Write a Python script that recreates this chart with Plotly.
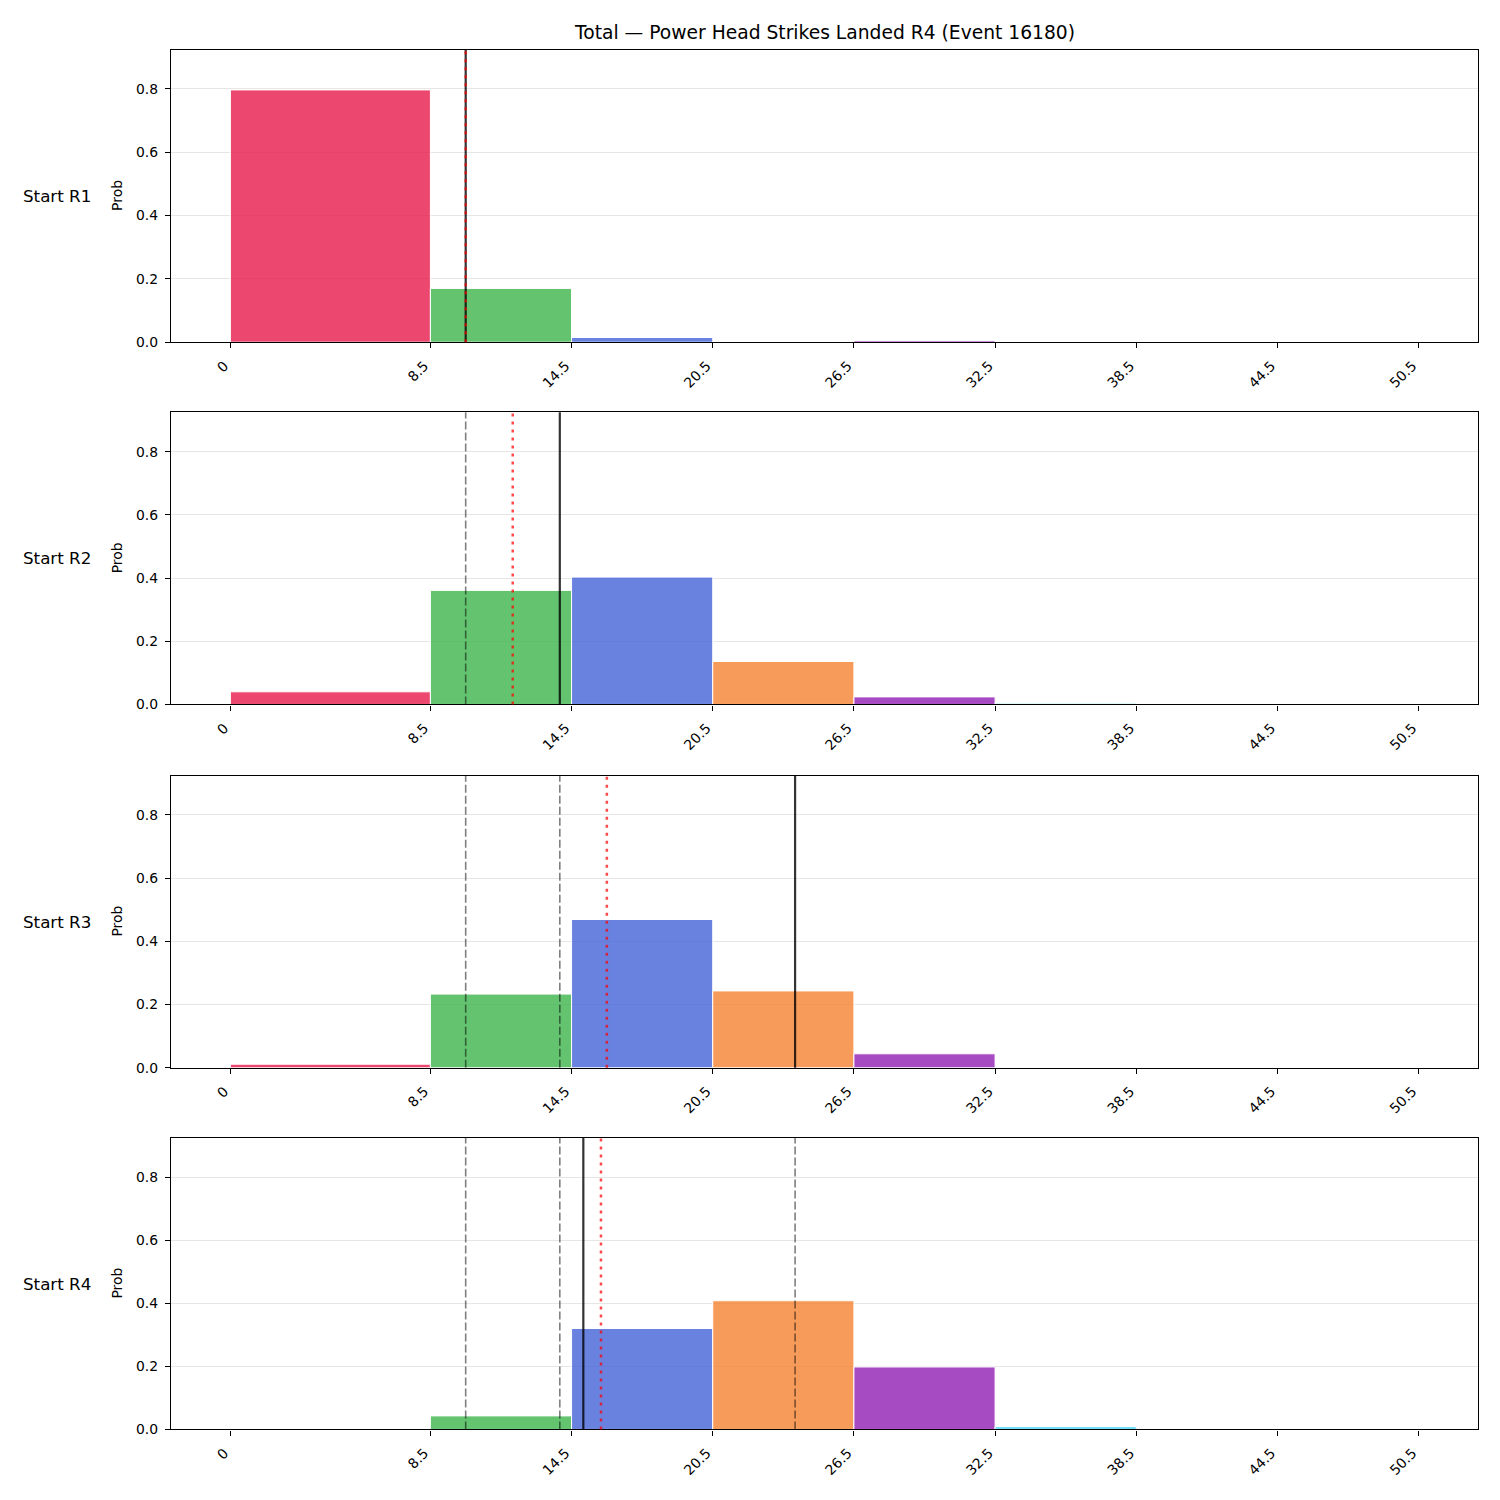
import plotly.graph_objects as go

# ---- data ----
bin_edges = [0, 8.5, 14.5, 20.5, 26.5, 32.5, 38.5, 44.5, 50.5]
tick_labels = ["0", "8.5", "14.5", "20.5", "26.5", "32.5", "38.5", "44.5", "50.5"]
bin_colors = ["#e6194b", "#3cb44b", "#4363d8", "#f58231", "#911eb4", "#42d4f4", "#f032e6", "#bfef45"]
row_labels = ["Start R1", "Start R2", "Start R3", "Start R4"]
prob_r1 = [0.797, 0.170, 0.015, 0.001, 0.005, 0.0, 0.0, 0.0]
prob_r2 = [0.040, 0.361, 0.403, 0.136, 0.024, 0.004, 0.0, 0.0]
prob_r3 = [0.011, 0.233, 0.469, 0.243, 0.044, 0.001, 0.0, 0.0]
prob_r4 = [0.0, 0.043, 0.320, 0.408, 0.198, 0.009, 0.0, 0.0]
probs = [prob_r1, prob_r2, prob_r3, prob_r4]
actual_line = [10, 14, 24, 15]          # solid black
expected_line = [10, 12, 16, 15.75]     # red dotted
title = "Total — Power Head Strikes Landed R4 (Event 16180)"

W = H = 1500
HEFF = 1491.0  # empirical vertical compensation

def hexa(c, a):
    c = c.lstrip("#")
    return f"rgba({int(c[0:2],16)},{int(c[2:4],16)},{int(c[4:6],16)},{a})"

def fy(px):
    return 1 - px / HEFF

centers = [(bin_edges[i] + bin_edges[i + 1]) / 2 for i in range(len(bin_edges) - 1)]
widths = [bin_edges[i + 1] - bin_edges[i] for i in range(len(bin_edges) - 1)]

panels_px = [(49.5, 342), (412, 704), (775, 1067), (1137, 1428.5)]
x0_px, x1_px = 171, 1478

fig = go.Figure()
layout = dict(
    width=W, height=H, margin=dict(l=0, r=0, t=0, b=0),
    paper_bgcolor="white", plot_bgcolor="white", showlegend=False,
    font=dict(family="DejaVu Sans", color="black", size=14),
)
shapes = []
annotations = []
font_tick = dict(family="DejaVu Sans", size=13.9, color="black")

for i, p in enumerate(probs):
    n = i + 1
    xa = "x" if n == 1 else f"x{n}"
    ya = "y" if n == 1 else f"y{n}"
    fig.add_trace(go.Bar(
        x=centers, y=p, width=widths,
        marker=dict(color=[hexa(c, 0.8) for c in bin_colors],
                    line=dict(color="white", width=1)),
        xaxis=xa, yaxis=ya,
    ))
    top, bot = panels_px[i]
    dom_y = [fy(bot), fy(top)]
    axis_common = dict(
        showline=True, linecolor="black", linewidth=1.2, mirror=True,
        ticks="outside", ticklen=5, tickwidth=1.2, tickcolor="black",
        tickfont=font_tick, zeroline=False,
    )
    layout["xaxis" if n == 1 else f"xaxis{n}"] = dict(
        domain=[x0_px / W, x1_px / W], range=[-2.525, 53.025],
        tickmode="array", tickvals=bin_edges, ticktext=tick_labels,
        tickangle=-45, ticklabelshift=-6, ticklabelstandoff=4,
        showgrid=False, anchor=ya, **axis_common,
    )
    layout["yaxis" if n == 1 else f"yaxis{n}"] = dict(
        domain=dom_y, range=[0, 0.9245], tickmode="array",
        tickvals=[0, 0.2, 0.4, 0.6, 0.8], ticktext=["0.0", "0.2", "0.4", "0.6", "0.8"],
        ticklabelstandoff=4,
        showgrid=True, gridcolor="#e6e6e6", gridwidth=0.8, anchor=xa, **axis_common,
    )
    for j in range(i):
        shapes.append(dict(type="line", xref=xa, yref=f"{ya} domain",
                           x0=actual_line[j], x1=actual_line[j], y0=0, y1=1,
                           line=dict(color="rgba(0,0,0,0.5)", width=1.6, dash="8px,3px")))
    shapes.append(dict(type="line", xref=xa, yref=f"{ya} domain",
                       x0=actual_line[i], x1=actual_line[i], y0=0, y1=1,
                       line=dict(color="rgba(0,0,0,0.8)", width=2.2)))
    shapes.append(dict(type="line", xref=xa, yref=f"{ya} domain",
                       x0=expected_line[i], x1=expected_line[i], y0=0, y1=1,
                       line=dict(color="rgba(255,0,0,0.7)", width=2.5, dash="3px,5px")))
    ymid = fy((top + bot) / 2)
    annotations.append(dict(text=row_labels[i], xref="paper", yref="paper",
                            x=57 / W, y=ymid, xanchor="center", yanchor="middle",
                            showarrow=False, font=dict(family="DejaVu Sans", size=16.7, color="black")))
    annotations.append(dict(text="Prob", xref="paper", yref="paper",
                            x=117 / W, y=ymid, xanchor="center", yanchor="middle", textangle=-90,
                            showarrow=False, font=dict(family="DejaVu Sans", size=13.9, color="black")))

annotations.append(dict(text=title, xref="paper", yref="paper",
                        x=(x0_px + x1_px) / 2 / W, y=fy(32), xanchor="center", yanchor="middle",
                        showarrow=False, font=dict(family="DejaVu Sans", size=18.7, color="black")))

layout["shapes"] = shapes
layout["annotations"] = annotations
layout["barmode"] = "overlay"
fig.update_layout(**layout)
fig.write_html("out.html")
